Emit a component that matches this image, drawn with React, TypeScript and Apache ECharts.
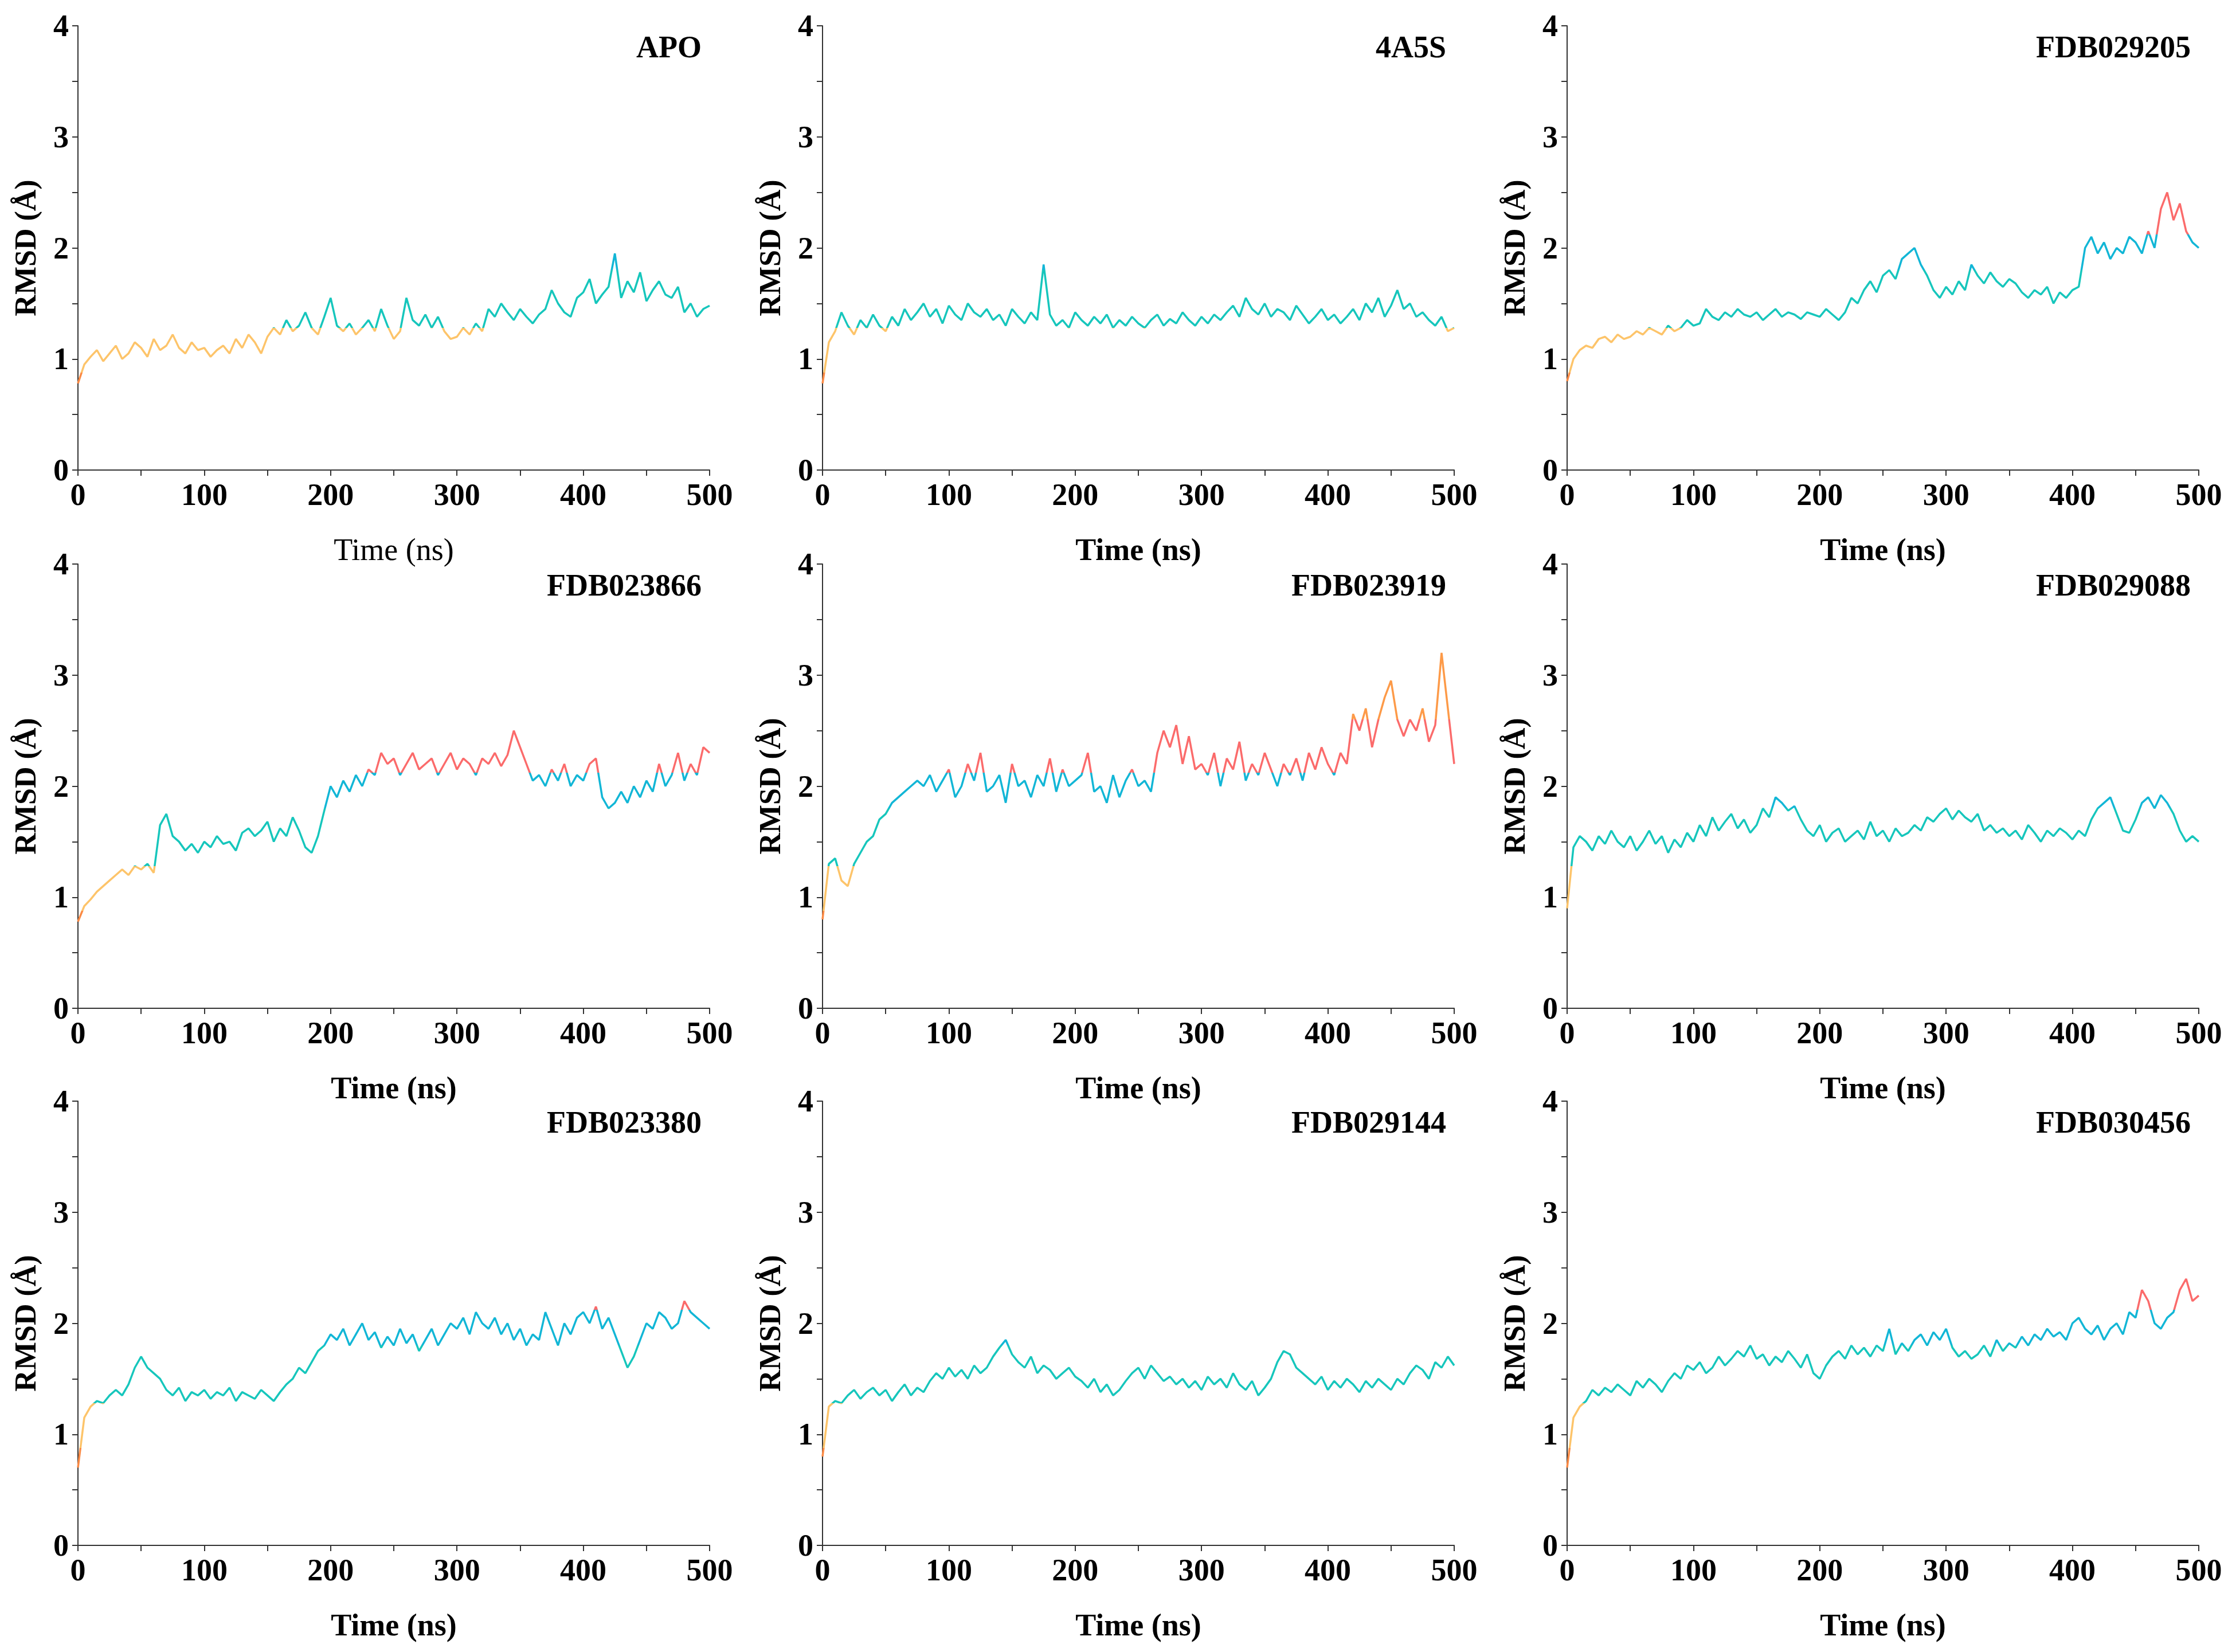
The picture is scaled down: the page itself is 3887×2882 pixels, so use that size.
import { useEffect, useRef } from 'react'
import * as echarts from 'echarts'

// RMSD traces, one value every 5 ns from 0 to 500 ns
const titles = ['APO', '4A5S', 'FDB029205', 'FDB023866', 'FDB023919', 'FDB029088', 'FDB023380', 'FDB029144', 'FDB030456']

const apo = [0.78,0.95,1.02,1.08,0.98,1.05,1.12,1.0,1.05,1.15,1.1,1.02,1.18,1.08,1.12,1.22,1.1,1.05,1.15,1.08,1.1,1.02,1.08,1.12,1.05,1.18,1.1,1.22,1.15,1.05,1.2,1.28,1.22,1.35,1.25,1.3,1.42,1.28,1.22,1.38,1.55,1.3,1.25,1.32,1.22,1.28,1.35,1.25,1.45,1.3,1.18,1.25,1.55,1.35,1.3,1.4,1.28,1.38,1.25,1.18,1.2,1.28,1.22,1.32,1.25,1.45,1.38,1.5,1.42,1.35,1.45,1.38,1.32,1.4,1.45,1.62,1.5,1.42,1.38,1.55,1.6,1.72,1.5,1.58,1.65,1.95,1.55,1.7,1.6,1.78,1.52,1.62,1.7,1.58,1.55,1.65,1.42,1.5,1.38,1.45,1.48]
const a4a5s = [0.78,1.15,1.25,1.42,1.3,1.22,1.35,1.28,1.4,1.3,1.25,1.38,1.3,1.45,1.35,1.42,1.5,1.38,1.45,1.32,1.48,1.4,1.35,1.5,1.42,1.38,1.45,1.35,1.4,1.3,1.45,1.38,1.32,1.42,1.35,1.85,1.4,1.3,1.35,1.28,1.42,1.35,1.3,1.38,1.32,1.4,1.28,1.35,1.3,1.38,1.32,1.28,1.35,1.4,1.3,1.36,1.32,1.42,1.35,1.3,1.38,1.32,1.4,1.35,1.42,1.48,1.38,1.55,1.45,1.4,1.5,1.38,1.45,1.42,1.35,1.48,1.4,1.32,1.38,1.45,1.35,1.4,1.32,1.38,1.45,1.35,1.5,1.42,1.55,1.38,1.48,1.62,1.45,1.5,1.38,1.42,1.35,1.3,1.38,1.25,1.28]
const f029205 = [0.8,1.0,1.08,1.12,1.1,1.18,1.2,1.15,1.22,1.18,1.2,1.25,1.22,1.28,1.25,1.22,1.3,1.25,1.28,1.35,1.3,1.32,1.45,1.38,1.35,1.42,1.38,1.45,1.4,1.38,1.42,1.35,1.4,1.45,1.38,1.42,1.4,1.36,1.42,1.4,1.38,1.45,1.4,1.35,1.42,1.55,1.5,1.62,1.7,1.6,1.75,1.8,1.72,1.9,1.95,2.0,1.85,1.75,1.62,1.55,1.65,1.58,1.7,1.62,1.85,1.75,1.68,1.78,1.7,1.65,1.72,1.68,1.6,1.55,1.62,1.58,1.65,1.5,1.6,1.55,1.62,1.65,2.0,2.1,1.95,2.05,1.9,2.0,1.95,2.1,2.05,1.95,2.15,2.0,2.35,2.5,2.25,2.4,2.15,2.05,2.0]
const f023866 = [0.78,0.92,0.98,1.05,1.1,1.15,1.2,1.25,1.2,1.28,1.25,1.3,1.22,1.65,1.75,1.55,1.5,1.42,1.48,1.4,1.5,1.45,1.55,1.48,1.5,1.42,1.58,1.62,1.55,1.6,1.68,1.5,1.62,1.55,1.72,1.6,1.45,1.4,1.55,1.78,2.0,1.9,2.05,1.95,2.1,2.0,2.15,2.1,2.3,2.2,2.25,2.1,2.2,2.3,2.15,2.2,2.25,2.1,2.2,2.3,2.15,2.25,2.2,2.1,2.25,2.2,2.3,2.18,2.28,2.5,2.35,2.2,2.05,2.1,2.0,2.15,2.05,2.2,2.0,2.1,2.05,2.2,2.25,1.9,1.8,1.85,1.95,1.85,2.0,1.9,2.05,1.95,2.2,2.0,2.1,2.3,2.05,2.2,2.1,2.35,2.3]
const f023919 = [0.8,1.3,1.35,1.15,1.1,1.3,1.4,1.5,1.55,1.7,1.75,1.85,1.9,1.95,2.0,2.05,2.0,2.1,1.95,2.05,2.15,1.9,2.0,2.2,2.05,2.3,1.95,2.0,2.1,1.85,2.2,2.0,2.05,1.9,2.1,2.0,2.25,1.95,2.15,2.0,2.05,2.1,2.3,1.95,2.0,1.85,2.1,1.9,2.05,2.15,2.0,2.05,1.95,2.3,2.5,2.35,2.55,2.2,2.45,2.15,2.2,2.1,2.3,2.0,2.25,2.15,2.4,2.05,2.2,2.1,2.3,2.15,2.0,2.2,2.1,2.25,2.05,2.3,2.15,2.35,2.2,2.1,2.3,2.2,2.65,2.5,2.7,2.35,2.6,2.8,2.95,2.6,2.45,2.6,2.5,2.7,2.4,2.55,3.2,2.7,2.2]
const f029088 = [0.9,1.45,1.55,1.5,1.42,1.55,1.48,1.6,1.5,1.45,1.55,1.42,1.5,1.6,1.48,1.55,1.4,1.52,1.45,1.58,1.5,1.65,1.55,1.72,1.6,1.68,1.75,1.62,1.7,1.58,1.65,1.8,1.72,1.9,1.85,1.78,1.82,1.7,1.6,1.55,1.65,1.5,1.58,1.62,1.5,1.55,1.6,1.52,1.68,1.55,1.6,1.5,1.62,1.55,1.58,1.65,1.6,1.72,1.68,1.75,1.8,1.7,1.78,1.72,1.68,1.75,1.6,1.65,1.58,1.62,1.55,1.6,1.52,1.65,1.58,1.5,1.6,1.55,1.62,1.58,1.52,1.6,1.55,1.7,1.8,1.85,1.9,1.75,1.6,1.58,1.7,1.85,1.9,1.8,1.92,1.85,1.75,1.6,1.5,1.55,1.5]
const f023380 = [0.7,1.15,1.25,1.3,1.28,1.35,1.4,1.35,1.45,1.6,1.7,1.6,1.55,1.5,1.4,1.35,1.42,1.3,1.38,1.35,1.4,1.32,1.38,1.35,1.42,1.3,1.38,1.35,1.32,1.4,1.35,1.3,1.38,1.45,1.5,1.6,1.55,1.65,1.75,1.8,1.9,1.85,1.95,1.8,1.9,2.0,1.85,1.92,1.78,1.88,1.8,1.95,1.82,1.9,1.75,1.85,1.95,1.8,1.9,2.0,1.95,2.05,1.9,2.1,2.0,1.95,2.05,1.9,2.0,1.85,1.95,1.8,1.9,1.85,2.1,1.95,1.8,2.0,1.9,2.05,2.1,2.0,2.15,1.95,2.05,1.9,1.75,1.6,1.7,1.85,2.0,1.95,2.1,2.05,1.95,2.0,2.2,2.1,2.05,2.0,1.95]
const f029144 = [0.8,1.25,1.3,1.28,1.35,1.4,1.32,1.38,1.42,1.35,1.4,1.3,1.38,1.45,1.35,1.42,1.38,1.48,1.55,1.5,1.6,1.52,1.58,1.5,1.62,1.55,1.6,1.7,1.78,1.85,1.72,1.65,1.6,1.7,1.55,1.62,1.58,1.5,1.55,1.6,1.52,1.48,1.42,1.5,1.38,1.45,1.35,1.4,1.48,1.55,1.6,1.5,1.62,1.55,1.48,1.52,1.45,1.5,1.42,1.48,1.4,1.52,1.45,1.5,1.42,1.55,1.45,1.4,1.48,1.35,1.42,1.5,1.65,1.75,1.72,1.6,1.55,1.5,1.45,1.52,1.4,1.48,1.42,1.5,1.45,1.38,1.48,1.42,1.5,1.45,1.4,1.5,1.45,1.55,1.62,1.58,1.5,1.65,1.6,1.7,1.62]
const f030456 = [0.7,1.15,1.25,1.3,1.4,1.35,1.42,1.38,1.45,1.4,1.35,1.48,1.42,1.5,1.45,1.38,1.48,1.55,1.5,1.62,1.58,1.65,1.55,1.6,1.7,1.62,1.68,1.75,1.7,1.8,1.68,1.72,1.62,1.7,1.65,1.75,1.68,1.6,1.72,1.55,1.5,1.62,1.7,1.75,1.68,1.8,1.72,1.78,1.7,1.8,1.75,1.95,1.72,1.82,1.75,1.85,1.9,1.8,1.92,1.85,1.95,1.78,1.7,1.75,1.68,1.72,1.8,1.7,1.85,1.75,1.82,1.78,1.88,1.8,1.9,1.85,1.95,1.88,1.92,1.85,2.0,2.05,1.95,1.9,1.98,1.85,1.95,2.0,1.9,2.1,2.05,2.3,2.2,2.0,1.95,2.05,2.1,2.3,2.4,2.2,2.25]

const traces = [apo, a4a5s, f029205, f023866, f023919, f029088, f023380, f029144, f030456]
const timeStep = 5

const colLeft = [136, 1435, 2734]
const rowTop = [45, 984, 1921]
const gridW = 1102
const gridH = 775
const font = '"Liberation Serif", "Times New Roman", serif'

export default function App() {
  const ref = useRef<HTMLDivElement>(null)

  useEffect(() => {
    document.body.style.margin = '0'
    if (!ref.current) return
    const chart = echarts.init(ref.current, null, { renderer: 'svg' })

    const grids: any[] = []
    const xAxes: any[] = []
    const yAxes: any[] = []
    const series: any[] = []
    const graphics: any[] = []

    traces.forEach((vals, i) => {
      const left = colLeft[i % 3]
      const top = rowTop[Math.floor(i / 3)]
      grids.push({ left, top, width: gridW, height: gridH })
      const axisCommon = {
        gridIndex: i,
        axisLine: { lineStyle: { color: '#333', width: 2 } },
        axisTick: { length: 10, lineStyle: { color: '#333', width: 2 } },
        minorTick: { show: true, splitNumber: 2, length: 10, lineStyle: { color: '#333', width: 2 } },
        splitLine: { show: false },
        axisLabel: { fontFamily: font, fontWeight: 'bold', fontSize: 54, color: '#000', margin: 16 },
      }
      xAxes.push({
        ...axisCommon,
        type: 'value', min: 0, max: 500, interval: 100,
        name: 'Time (ns)', nameLocation: 'middle', nameGap: 112,
        nameTextStyle: { fontFamily: font, fontWeight: i === 0 ? 'normal' : 'bold', fontSize: 54, color: '#000' },
      })
      yAxes.push({
        ...axisCommon,
        type: 'value', min: 0, max: 4, interval: 1,
        name: 'RMSD (Å)', nameLocation: 'middle', nameGap: 66,
        nameTextStyle: { fontFamily: font, fontWeight: 'bold', fontSize: 52, color: '#000' },
      })
      series.push({
        type: 'line', xAxisIndex: i, yAxisIndex: i, showSymbol: false,
        lineStyle: { width: 3.5 },
        data: vals.map((v, k) => [k * timeStep, v]),
      })
      graphics.push({
        type: 'text', right: 3887 - (left + gridW) + 14, top: top + 10,
        style: { text: titles[i], fontFamily: font, fontWeight: 'bold', fontSize: 54, fill: '#000' },
      })
    })

    chart.setOption({
      animation: false,
      backgroundColor: '#fff',
      grid: grids,
      xAxis: xAxes,
      yAxis: yAxes,
      series,
      graphic: graphics,
      visualMap: {
        type: 'piecewise', show: false, dimension: 1,
        seriesIndex: series.map((_, i) => i),
        pieces: [
          { lt: 0.88, color: '#fb8a45' },
          { gte: 0.88, lt: 1.28, color: '#fdc46a' },
          { gte: 1.28, lt: 1.8, color: '#16c6bc' },
          { gte: 1.8, lt: 2.12, color: '#12b6d6' },
          { gte: 2.12, lt: 2.6, color: '#fb6b6b' },
          { gte: 2.6, color: '#fd9a48' },
        ],
      },
    })
    return () => chart.dispose()
  }, [])

  return <div ref={ref} style={{ width: 3887, height: 2882 }} />
}
